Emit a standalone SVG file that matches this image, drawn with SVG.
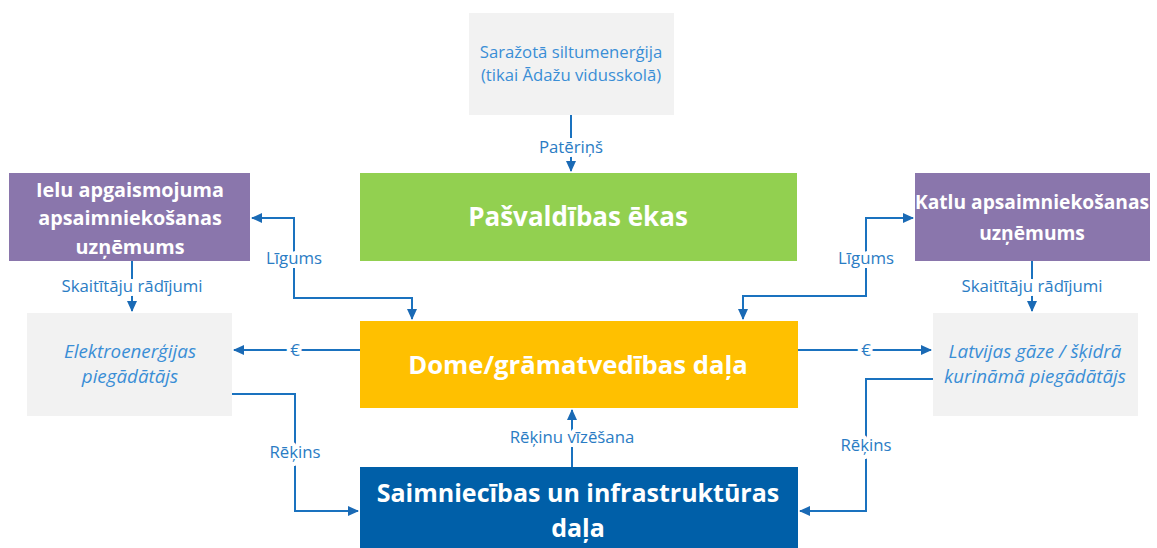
<svg xmlns="http://www.w3.org/2000/svg" width="1157" height="548" viewBox="0 0 1157 548">
<defs>
<style>
.box-gray{fill:#f2f2f2}
.box-purple{fill:#8a76ac}
.box-green{fill:#92d050}
.box-yellow{fill:#ffc000}
.box-blue{fill:#005fa8}
.t-white{fill:#ffffff;font-family:"Open Sans","Noto Sans",sans-serif;font-weight:bold;text-anchor:middle}
.t-blue{fill:#3a8ed6;font-family:"Open Sans","Noto Sans",sans-serif;text-anchor:middle;font-size:16.7px}
.t-it{font-style:italic;font-size:18.8px}
.conn{fill:none;stroke:#1a72bf;stroke-width:2}
.lbl{fill:#2a7cc4;font-family:"Open Sans","Noto Sans",sans-serif;font-size:16.8px;text-anchor:middle;stroke:#ffffff;stroke-width:8;paint-order:stroke;stroke-linejoin:round}
</style>
<marker id="ah" markerWidth="12" markerHeight="12" refX="10" refY="6" orient="auto-start-reverse" markerUnits="userSpaceOnUse">
<path d="M0,1 L11,6 L0,11 Z" fill="#1a6ab5"/>
</marker>
</defs>
<rect width="1157" height="548" fill="#ffffff"/>

<g id="connectors">
<path class="conn" d="M571,115 V171" marker-end="url(#ah)"/>
<path class="conn" d="M252,218 H294 V298 H412 V319" marker-start="url(#ah)" marker-end="url(#ah)"/>
<path class="conn" d="M913,218 H866 V296 H743 V319" marker-start="url(#ah)" marker-end="url(#ah)"/>
<path class="conn" d="M132,261 V311" marker-end="url(#ah)"/>
<path class="conn" d="M1032,261 V311" marker-end="url(#ah)"/>
<path class="conn" d="M360,350 H234" marker-end="url(#ah)"/>
<path class="conn" d="M798,350 H931" marker-end="url(#ah)"/>
<path class="conn" d="M232,394 H295 V511 H358" marker-end="url(#ah)"/>
<path class="conn" d="M933,379 H866 V511 H800" marker-end="url(#ah)"/>
<path class="conn" d="M572,467 V410" marker-end="url(#ah)"/>
<text class="lbl" x="571" y="153">Patēriņš</text>
<text class="lbl" x="294" y="264">Līgums</text>
<text class="lbl" x="866" y="264">Līgums</text>
<text class="lbl" x="132" y="292">Skaitītāju rādījumi</text>
<text class="lbl" x="1032" y="292">Skaitītāju rādījumi</text>
<text class="lbl" x="295" y="356">€</text>
<text class="lbl" x="866" y="356">€</text>
<text class="lbl" x="295" y="458">Rēķins</text>
<text class="lbl" x="866" y="451">Rēķins</text>
<text class="lbl" x="572" y="443">Rēķinu vīzēšana</text>
</g>

<g id="node-saražotā">
<rect class="box-gray" x="469" y="13" width="205" height="102"/>
<text class="t-blue" x="571" y="58">Saražotā siltumenerģija</text>
<text class="t-blue" x="571" y="81">(tikai Ādažu vidusskolā)</text>
</g>

<g id="node-pasvaldibas">
<rect class="box-green" x="360" y="173" width="437" height="88"/>
<text class="t-white" x="578" y="226" font-size="26">Pašvaldības ēkas</text>
</g>

<g id="node-ielu">
<rect class="box-purple" x="9" y="173" width="241" height="88"/>
<text class="t-white" x="130" y="197" font-size="19.8">Ielu apgaismojuma</text>
<text class="t-white" x="130" y="225" font-size="19.8">apsaimniekošanas</text>
<text class="t-white" x="130" y="254" font-size="19.8">uzņēmums</text>
</g>

<g id="node-katlu">
<rect class="box-purple" x="915" y="173" width="235" height="88"/>
<text class="t-white" x="1032" y="209" font-size="19.2">Katlu apsaimniekošanas</text>
<text class="t-white" x="1032" y="240" font-size="19.2">uzņēmums</text>
</g>

<g id="node-elektro">
<rect class="box-gray" x="27" y="313" width="205" height="103"/>
<text class="t-blue t-it" x="130" y="358">Elektroenerģijas</text>
<text class="t-blue t-it" x="130" y="383">piegādātājs</text>
</g>

<g id="node-dome">
<rect class="box-yellow" x="360" y="321" width="438" height="87"/>
<text class="t-white" x="578" y="374" font-size="25.7">Dome/grāmatvedības daļa</text>
</g>

<g id="node-latvijas">
<rect class="box-gray" x="933" y="313" width="205" height="103"/>
<text class="t-blue t-it" x="1035" y="358">Latvijas gāze / šķidrā</text>
<text class="t-blue t-it" x="1035" y="383">kurināmā piegādātājs</text>
</g>

<g id="node-saimniecibas">
<rect class="box-blue" x="360" y="467" width="438" height="90"/>
<text class="t-white" x="578" y="502" font-size="25">Saimniecības un infrastruktūras</text>
<text class="t-white" x="578" y="537" font-size="25">daļa</text>
</g>
</svg>
